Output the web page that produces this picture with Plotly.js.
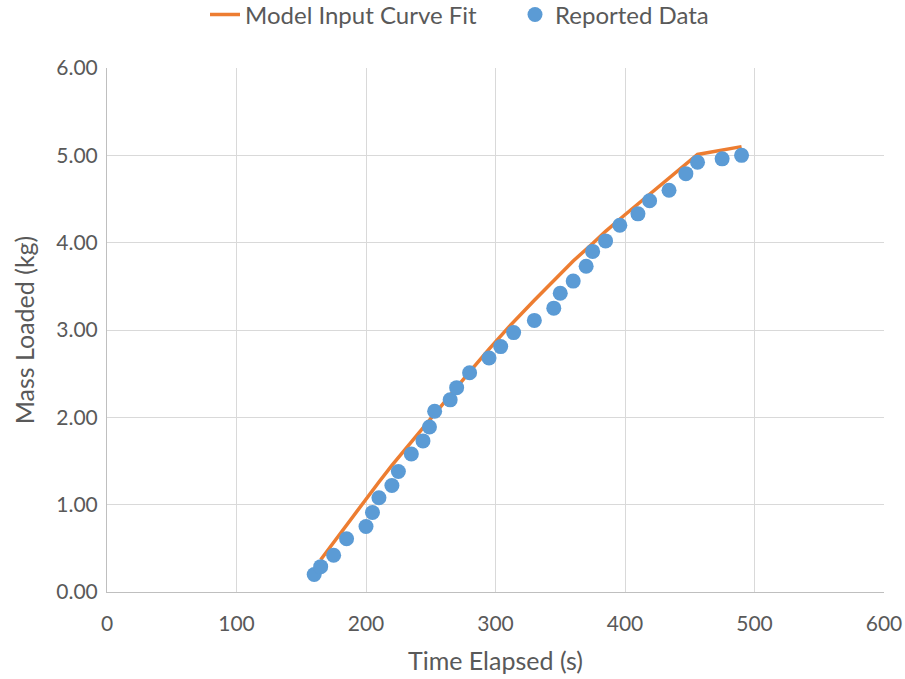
<!DOCTYPE html>
<html>
<head>
<meta charset="utf-8">
<script src="https://cdn.plot.ly/plotly-3.0.1.min.js"></script>
<style>
html,body{margin:0;padding:0;background:#fff;}
#chart{width:905px;height:679px;}
</style>
</head>
<body>
<div id="chart"></div>
<script>
// Reported data
var reportedTime = [160,165,175,185,200,205,210,220,225,235,244,249,253,265,270,280,295,304,314,330,345,350,360,370,375,385,396,410,419,434,447,456,475,490];
var reportedMass = [0.20,0.29,0.42,0.61,0.75,0.91,1.08,1.22,1.38,1.58,1.73,1.89,2.07,2.20,2.34,2.51,2.68,2.81,2.97,3.11,3.25,3.42,3.56,3.73,3.90,4.02,4.20,4.33,4.48,4.60,4.79,4.92,4.96,5.00];

// Model input curve fit
var modelTime = [165,175,185,200,210,220,235,250,265,280,295,310,330,345,360,375,385,400,420,435,456,490];
var modelMass = [0.37,0.57,0.77,1.07,1.26,1.45,1.72,1.99,2.26,2.52,2.78,3.03,3.34,3.57,3.79,3.99,4.13,4.32,4.57,4.76,5.01,5.10];

var xTicks = [0,100,200,300,400,500,600];
var yTicks = [0,1,2,3,4,5,6];

var FONT = 'Lato, "Open Sans", sans-serif';
var GREY = '#595959';

var traces = [
  {
    x: modelTime, y: modelMass, type: 'scatter', mode: 'lines',
    name: 'Model Input Curve Fit',
    line: {color: '#ED7D31', width: 3.5}
  },
  {
    x: reportedTime, y: reportedMass, type: 'scatter', mode: 'markers',
    name: 'Reported Data',
    marker: {color: '#5B9BD5', size: 15, line: {width: 0}}
  }
];

var layout = {
  width: 905, height: 679,
  margin: {l: 107, r: 21, t: 68, b: 87, autoexpand: false},
  paper_bgcolor: '#fff', plot_bgcolor: '#fff',
  font: {family: FONT, color: GREY, size: 21},
  showlegend: true,
  legend: {
    orientation: 'h', xref: 'container', yref: 'container',
    x: 205 / 905, xanchor: 'left', y: 0.978, yanchor: 'middle',
    entrywidth: 265, entrywidthmode: 'pixels',
    font: {family: FONT, color: GREY, size: 24},
    bgcolor: 'rgba(0,0,0,0)'
  },
  xaxis: {
    range: [0, 600], tickvals: xTicks, ticktext: xTicks.map(String),
    showgrid: true, gridcolor: '#D9D9D9', gridwidth: 1,
    showline: true, linecolor: '#BFBFBF', linewidth: 1,
    zeroline: false, ticks: '', ticklabelstandoff: 13,
    tickfont: {family: FONT, color: GREY, size: 21},
    title: {text: 'Time Elapsed (s)', font: {family: FONT, color: GREY, size: 25}, standoff: 18}
  },
  yaxis: {
    range: [0, 6], tickvals: yTicks, ticktext: yTicks.map(function(v){return v.toFixed(2);}),
    showgrid: true, gridcolor: '#D9D9D9', gridwidth: 1,
    showline: true, linecolor: '#BFBFBF', linewidth: 1,
    zeroline: false, ticks: '', ticklabelstandoff: 4,
    tickfont: {family: FONT, color: GREY, size: 21},
    title: {text: 'Mass Loaded (kg)', font: {family: FONT, color: GREY, size: 25}, standoff: 14}
  }
};

Plotly.newPlot('chart', traces, layout, {displayModeBar: false, staticPlot: true});
</script>
</body>
</html>
